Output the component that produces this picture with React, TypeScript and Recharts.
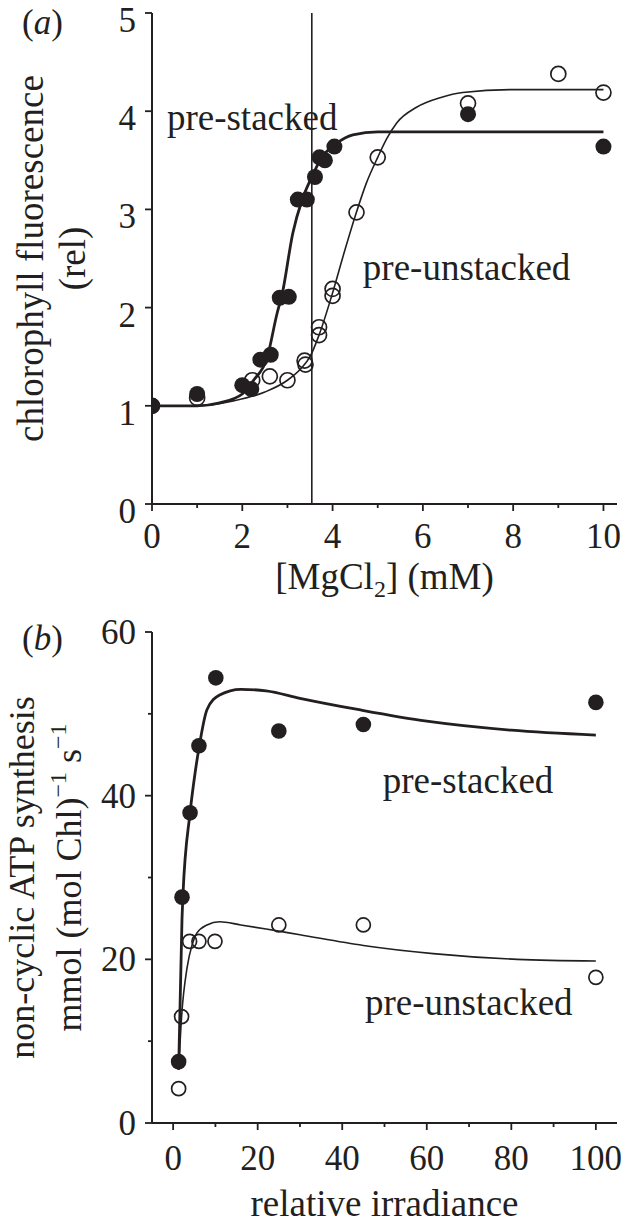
import React from 'react';
import { ComposedChart, Line, Scatter, XAxis, YAxis, ReferenceLine, Label } from 'recharts';

const FONT = '"Liberation Serif", "Times New Roman", Times, serif';
const INK = '#231f20';

// ---------- Panel (a): chlorophyll fluorescence vs [MgCl2] ----------
const mgTicks = [0, 1, 2, 3, 4, 5, 6, 7, 8, 9, 10];
const mgTickLabels = [0, 2, 4, 6, 8, 10];
const fluorTicks = [0, 1, 2, 3, 4, 5];
const fluorTickLabels = [0, 1, 2, 3, 4, 5];

const stackedMg = [0, 1, 2, 2.2, 2.4, 2.63, 2.83, 3.03, 3.23, 3.43, 3.61, 3.71, 3.83, 4.04, 7.0, 10];
const stackedFluor = [1.0, 1.12, 1.21, 1.17, 1.47, 1.52, 2.1, 2.11, 3.1, 3.1, 3.33, 3.53, 3.5, 3.64, 3.97, 3.64];

const unstackedMg = [0, 1, 2.22, 2.61, 3.0, 3.38, 3.4, 3.7, 3.7, 4.0, 4.0, 4.53, 5.0, 7.0, 9.0, 10];
const unstackedFluor = [1.0, 1.08, 1.26, 1.3, 1.26, 1.46, 1.42, 1.8, 1.72, 2.19, 2.12, 2.97, 3.53, 4.08, 4.38, 4.19];

const stackedFitMg = [0, 1, 1.5, 2.0, 2.25, 2.55, 2.77, 2.88, 3.12, 3.32, 3.54, 3.75, 4.08, 4.45, 5.0, 6, 10];
const stackedFitFluor = [1.0, 1.0, 1.03, 1.12, 1.26, 1.49, 1.94, 2.13, 2.76, 3.09, 3.33, 3.52, 3.67, 3.76, 3.79, 3.79, 3.79];

const unstackedFitMg = [0, 1, 1.8, 2.5, 3.0, 3.3, 3.5, 3.7, 4.0, 4.25, 4.5, 4.75, 5.0, 5.2, 5.42, 5.86, 6.4, 6.88, 8, 10];
const unstackedFitFluor = [1.0, 1.0, 1.05, 1.14, 1.26, 1.38, 1.5, 1.72, 2.15, 2.55, 2.93, 3.27, 3.53, 3.72, 3.88, 4.04, 4.14, 4.19, 4.22, 4.22];

const thresholdMg = 3.54;

// ---------- Panel (b): ATP synthesis vs relative irradiance ----------
const irrTicks = [0, 10, 20, 30, 40, 50, 60, 70, 80, 90, 100];
const irrTickLabels = [0, 20, 40, 60, 80, 100];
const atpTicks = [0, 10, 20, 30, 40, 50, 60];
const atpTickLabels = [0, 20, 40, 60];

const stackedIrr = [1.3, 2.1, 4.0, 6.1, 10.1, 25, 45, 100];
const stackedAtp = [7.5, 27.6, 37.9, 46.1, 54.4, 47.9, 48.7, 51.4];

const unstackedIrr = [1.3, 2.0, 3.9, 6.1, 9.9, 25, 45, 100];
const unstackedAtp = [4.2, 13.0, 22.2, 22.2, 22.2, 24.2, 24.2, 17.8];

const stackedFitIrr = [1.3, 2.1, 2.3, 4.0, 5.2, 6.2, 8, 11, 16, 22, 30, 44, 60, 80, 100];
const stackedFitAtp = [6.5, 25.0, 27.6, 37.9, 42.8, 46.1, 50.5, 52.3, 53.0, 52.8, 51.9, 50.5, 49.1, 48.0, 47.4];

const unstackedFitIrr = [1.3, 2.0, 3.3, 4.5, 5.6, 8, 11, 16, 22, 30, 45, 61.5, 81.4, 100];
const unstackedFitAtp = [6.5, 13.0, 19.0, 21.8, 23.2, 24.2, 24.6, 24.2, 23.7, 23.0, 21.7, 20.7, 20.0, 19.8];

// annotation anchors (data coordinates)
const annotA = [
  { x: 0.33, y: 3.81, text: 'pre-stacked' },
  { x: 4.67, y: 2.28, text: 'pre-unstacked' },
];
const annotB = [
  { x: 49.6, y: 40.3, text: 'pre-stacked' },
  { x: 45.4, y: 13.2, text: 'pre-unstacked' },
];

const zip = (xs: number[], ys: number[]) => xs.map((x, i) => ({ x, y: ys[i] }));

const makeXTick = (labels: number[], labelDy: number) => (props: any) => {
  const { x, y, payload } = props;
  const major = labels.includes(payload.value);
  return (
    <g>
      <line x1={x} y1={y} x2={x} y2={y + (major ? 7 : 4)} stroke={INK} strokeWidth={1.8} />
      {major && (
        <text x={x} y={y + labelDy} textAnchor="middle" fontFamily={FONT} fontSize={35} fill={INK}>
          {payload.value}
        </text>
      )}
    </g>
  );
};

const makeYTick = (labels: number[], labelDy: number) => (props: any) => {
  const { x, y, payload } = props;
  const major = labels.includes(payload.value);
  return (
    <g>
      <line x1={x} y1={y} x2={x - (major ? 7 : 4)} y2={y} stroke={INK} strokeWidth={1.8} />
      {major && (
        <text x={x - 16} y={y + labelDy} textAnchor="end" fontFamily={FONT} fontSize={35} fill={INK}>
          {payload.value}
        </text>
      )}
    </g>
  );
};

const filledDot = (r: number) => (p: any) => <circle cx={p.cx} cy={p.cy} r={r} fill={INK} />;
const openDot = (r: number) => (p: any) => (
  <circle cx={p.cx} cy={p.cy} r={r} fill="none" stroke={INK} strokeWidth={1.7} />
);
const textShape = (p: any) => (
  <text x={p.cx} y={p.cy} textAnchor="start" fontFamily={FONT} fontSize={37} fill={INK}>
    {p.payload.text}
  </text>
);

const yLabelA = (props: any) => {
  const vb = props.viewBox || { x: 0, y: 13, width: 152, height: 491 };
  const cy = vb.y + vb.height / 2;
  const x1 = vb.x + 43;
  const x2 = vb.x + 85;
  return (
    <g fontFamily={FONT} fill={INK}>
      <text x={22} y={34} fontSize={35}>
        (<tspan fontStyle="italic">a</tspan>)
      </text>
      <text x={x1} y={cy} fontSize={37} textAnchor="middle" transform={`rotate(-90, ${x1}, ${cy})`}>
        chlorophyll fluorescence
      </text>
      <text x={x2} y={cy} fontSize={37} textAnchor="middle" transform={`rotate(-90, ${x2}, ${cy})`}>
        (rel)
      </text>
    </g>
  );
};

const xLabelA = (props: any) => {
  const vb = props.viewBox || { x: 152, y: 504, width: 465, height: 60 };
  const cx = vb.x + vb.width / 2;
  return (
    <text x={cx} y={vb.y + 85} textAnchor="middle" fontFamily={FONT} fontSize={37} fill={INK}>
      [MgCl<tspan fontSize={24} dy={8}>2</tspan>
      <tspan dy={-8}>] (mM)</tspan>
    </text>
  );
};

const yLabelB = (props: any) => {
  const vb = props.viewBox || { x: 0, y: 20, width: 152, height: 491 };
  const cy = vb.y + vb.height / 2;
  const x1 = vb.x + 34;
  const x2 = vb.x + 81;
  return (
    <g fontFamily={FONT} fill={INK}>
      <text x={22} y={38} fontSize={35}>
        (<tspan fontStyle="italic">b</tspan>)
      </text>
      <text x={x1} y={cy} fontSize={36} textAnchor="middle" transform={`rotate(-90, ${x1}, ${cy})`}>
        non-cyclic ATP synthesis
      </text>
      <text x={x2} y={cy} fontSize={36} textAnchor="middle" transform={`rotate(-90, ${x2}, ${cy})`}>
        mmol (mol Chl)<tspan fontSize={24} dy={-15}>−1</tspan>
        <tspan dy={15}> s</tspan>
        <tspan fontSize={24} dy={-15}>−1</tspan>
      </text>
    </g>
  );
};

const xLabelB = (props: any) => {
  const vb = props.viewBox || { x: 152, y: 511, width: 465, height: 60 };
  const cx = vb.x + vb.width / 2;
  return (
    <text x={cx} y={vb.y + 93} textAnchor="middle" fontFamily={FONT} fontSize={37} fill={INK}>
      relative irradiance
    </text>
  );
};

export default function App() {
  return (
    <div style={{ position: 'absolute', left: 0, top: 0, width: 632, height: 1225, background: '#fff' }}>
      <ComposedChart width={632} height={612} margin={{ top: 13, right: 15, bottom: 48, left: 0 }}>
        <XAxis
          dataKey="x"
          type="number"
          domain={[0, 10.3]}
          ticks={mgTicks}
          interval={0}
          height={60}
          tickSize={0}
          tickMargin={0}
          tickLine={false}
          axisLine={{ stroke: INK, strokeWidth: 2 }}
          tick={makeXTick(mgTickLabels, 44)}
          allowDataOverflow
        >
          <Label content={xLabelA} />
        </XAxis>
        <YAxis
          dataKey="y"
          type="number"
          domain={[0, 5]}
          ticks={fluorTicks}
          interval={0}
          width={152}
          tickSize={0}
          tickMargin={0}
          tickLine={false}
          axisLine={{ stroke: INK, strokeWidth: 2 }}
          tick={makeYTick(fluorTickLabels, 19)}
          allowDataOverflow
        >
          <Label content={yLabelA} />
        </YAxis>
        <ReferenceLine x={thresholdMg} stroke={INK} strokeWidth={1.6} />
        <Line
          data={zip(unstackedFitMg, unstackedFitFluor)}
          dataKey="y"
          type="monotone"
          stroke={INK}
          strokeWidth={1.6}
          dot={false}
          activeDot={false}
          isAnimationActive={false}
        />
        <Line
          data={zip(stackedFitMg, stackedFitFluor)}
          dataKey="y"
          type="monotone"
          stroke={INK}
          strokeWidth={2.8}
          dot={false}
          activeDot={false}
          isAnimationActive={false}
        />
        <Scatter data={zip(unstackedMg, unstackedFluor)} dataKey="y" shape={openDot(7.5)} isAnimationActive={false} />
        <Scatter data={zip(stackedMg, stackedFluor)} dataKey="y" shape={filledDot(8)} isAnimationActive={false} />
        <Scatter data={annotA} dataKey="y" shape={textShape} isAnimationActive={false} />
      </ComposedChart>

      <ComposedChart width={632} height={613} margin={{ top: 20, right: 15, bottom: 42, left: 0 }}>
        <XAxis
          dataKey="x"
          type="number"
          domain={[-5, 105]}
          ticks={irrTicks}
          interval={0}
          height={60}
          tickSize={0}
          tickMargin={0}
          tickLine={false}
          axisLine={{ stroke: INK, strokeWidth: 2 }}
          tick={makeXTick(irrTickLabels, 47)}
          allowDataOverflow
        >
          <Label content={xLabelB} />
        </XAxis>
        <YAxis
          dataKey="y"
          type="number"
          domain={[0, 60]}
          ticks={atpTicks}
          interval={0}
          width={152}
          tickSize={0}
          tickMargin={0}
          tickLine={false}
          axisLine={{ stroke: INK, strokeWidth: 2 }}
          tick={makeYTick(atpTickLabels, 12)}
          allowDataOverflow
        >
          <Label content={yLabelB} />
        </YAxis>
        <Line
          data={zip(unstackedFitIrr, unstackedFitAtp)}
          dataKey="y"
          type="monotone"
          stroke={INK}
          strokeWidth={1.6}
          dot={false}
          activeDot={false}
          isAnimationActive={false}
        />
        <Line
          data={zip(stackedFitIrr, stackedFitAtp)}
          dataKey="y"
          type="monotone"
          stroke={INK}
          strokeWidth={2.8}
          dot={false}
          activeDot={false}
          isAnimationActive={false}
        />
        <Scatter data={zip(unstackedIrr, unstackedAtp)} dataKey="y" shape={openDot(7)} isAnimationActive={false} />
        <Scatter data={zip(stackedIrr, stackedAtp)} dataKey="y" shape={filledDot(7.8)} isAnimationActive={false} />
        <Scatter data={annotB} dataKey="y" shape={textShape} isAnimationActive={false} />
      </ComposedChart>
    </div>
  );
}
